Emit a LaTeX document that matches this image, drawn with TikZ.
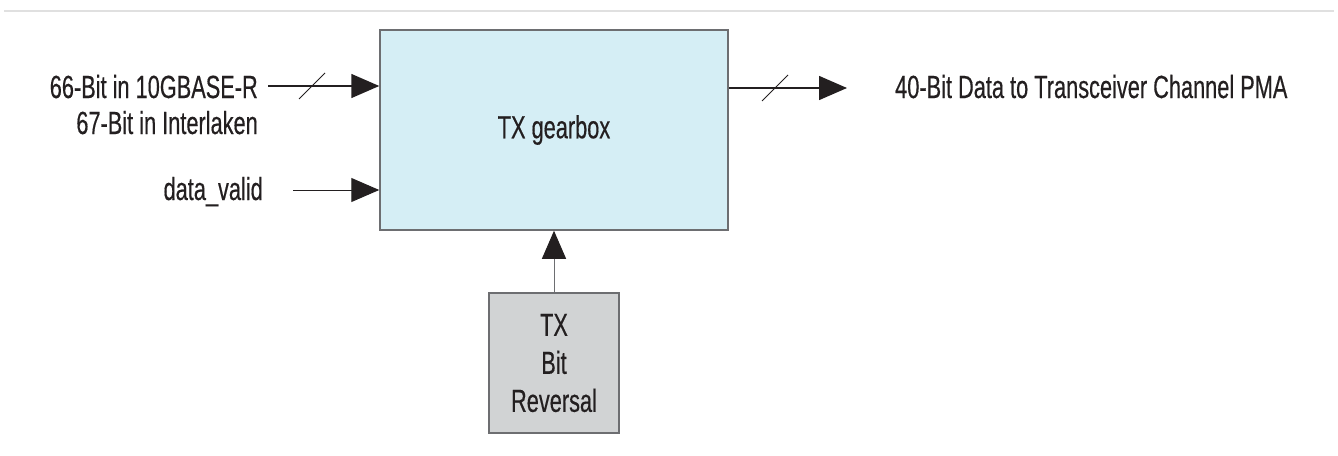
\documentclass[tikz,border=0pt]{standalone}
\usepackage{fontspec}
\setmainfont{Liberation Sans}[FakeStretch=0.68, FakeBold=0.4]
\usetikzlibrary{arrows.meta}
\definecolor{boxblue}{HTML}{D5EEF5}
\definecolor{boxgray}{HTML}{D1D3D4}
\definecolor{edgegray}{HTML}{6D6E71}
\definecolor{txt}{HTML}{231F20}
\definecolor{rulegray}{HTML}{E0E0E0}
\tikzset{
  lbl/.style={inner sep=0pt, text=txt, font=\fontsize{32}{36}\selectfont},
  blockbox/.style={draw=edgegray, line width=1.5pt, inner sep=0pt, text=txt,
    font=\fontsize{32}{38}\selectfont, align=center},
  arr/.style={draw=txt, -{Triangle[length=28pt,width=24pt,color=txt]}},
  slash/.style={draw=txt, line width=1pt},
}
\begin{document}
\begin{tikzpicture}[x=1pt,y=-1pt]
\useasboundingbox (0,0) rectangle (1338,455);
% top rule
\draw[rulegray, line width=2pt] (4,11) -- (1334,11);
% blocks
\node[blockbox, fill=boxblue, minimum width=348pt, minimum height=200pt] (gear) at (554,130) {TX gearbox};
\node[blockbox, fill=boxgray, minimum width=130pt, minimum height=140pt] (rev) at (554,363) {TX\\Bit\\Reversal};
% labels
\node[lbl, anchor=base east] (in1) at (258,98) {66-Bit in 10GBASE-R};
\node[lbl, anchor=base east] (in2) at (258,134) {67-Bit in Interlaken};
\node[lbl, anchor=base east] (dv) at (263,200) {data\_valid};
\node[lbl, anchor=base west] (out) at (895,98) {40-Bit Data to Transceiver Channel PMA};
% connector ends
\coordinate (s1) at (268,86);
\coordinate (s2) at (293,190);
\coordinate (t3) at (847,88);
% connectors
\draw[arr, line width=1.5pt] (s1) -- (gear.west |- s1);
\draw[slash] (299,99) -- (325,73);
\draw[arr, line width=1pt] (s2) -- (gear.west |- s2);
\draw[arr, line width=1.5pt] (gear.east |- t3) -- (t3);
\draw[slash] (762,101) -- (788,75);
\draw[arr, draw=edgegray, line width=1pt] (rev.north) -- (gear.south);
\end{tikzpicture}
\end{document}
